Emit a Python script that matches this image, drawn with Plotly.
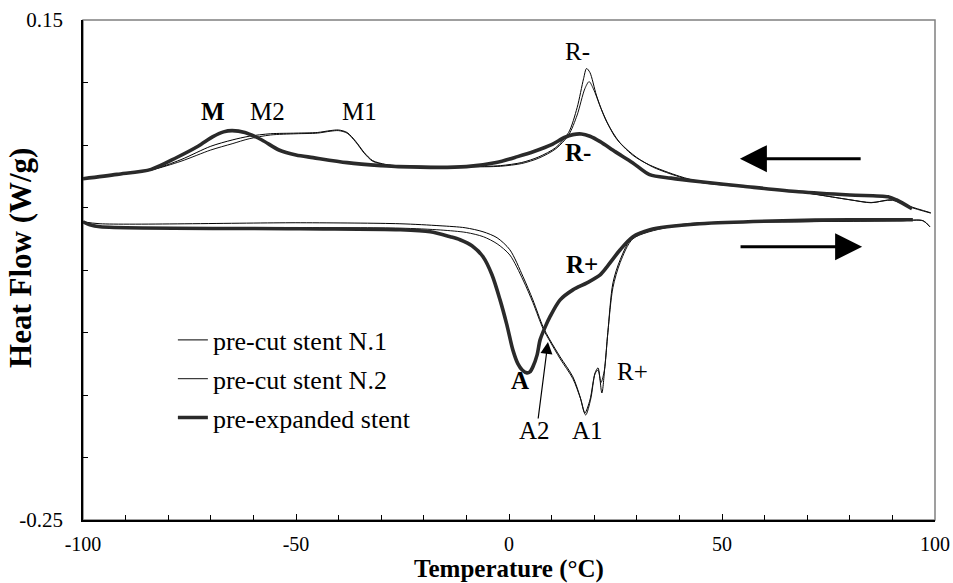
import plotly.graph_objects as go

# ---------------- data ----------------
# Cooling scans (upper curves)
T_cool_n1 = [-100, -92, -84, -77, -70, -65, -61, -56, -50, -45, -42, -40, -38, -36, -34, -32, -29, -26, -10, -2, 3, 7, 11, 14, 16, 17.5, 18.2, 19, 20.5, 22, 25, 29, 33, 40, 45, 55, 68, 80, 85, 90, 94, 99]
hf_cool_n1 = [0.0230, 0.0262, 0.0300, 0.0383, 0.0490, 0.0540, 0.0570, 0.0590, 0.0595, 0.0600, 0.0615, 0.0620, 0.0600, 0.0530, 0.0440, 0.0375, 0.0345, 0.0335, 0.0327, 0.0335, 0.0360, 0.0405, 0.0480, 0.0600, 0.0800, 0.1030, 0.1112, 0.1080, 0.0900, 0.0760, 0.0560, 0.0420, 0.0340, 0.0250, 0.0206, 0.0170, 0.0126, 0.0062, 0.0038, 0.0062, 0.0010, -0.0042]

T_cool_n2 = [-100, -92, -84, -77, -70, -65, -61, -56, -50, -45, -42, -40, -38, -36, -34, -32, -29, -26, -10, -2, 3, 7, 11, 14, 16, 17.8, 18.8, 19.8, 21.5, 23, 26, 30, 34, 40, 45, 55, 68, 80, 85, 90, 94, 99]
hf_cool_n2 = [0.0230, 0.0262, 0.0300, 0.0370, 0.0460, 0.0510, 0.0550, 0.0580, 0.0590, 0.0595, 0.0610, 0.0615, 0.0595, 0.0525, 0.0435, 0.0370, 0.0342, 0.0333, 0.0325, 0.0330, 0.0352, 0.0395, 0.0470, 0.0580, 0.0740, 0.0950, 0.1007, 0.0950, 0.0800, 0.0680, 0.0520, 0.0400, 0.0320, 0.0245, 0.0200, 0.0165, 0.0124, 0.0062, 0.0040, 0.0058, 0.0005, -0.0045]

T_cool_exp = [-100, -92, -84, -78, -73, -69.5, -67, -65, -62, -58, -54, -50, -46, -38, -30, -26, -10, -3, 2, 6, 10, 13, 15, 17, 19, 21.4, 25, 29, 33, 38, 45, 55, 68, 80, 89, 91, 94.6]
hf_cool_exp = [0.0230, 0.0265, 0.0305, 0.0400, 0.0490, 0.0567, 0.0605, 0.0615, 0.0600, 0.0540, 0.0460, 0.0420, 0.0399, 0.0359, 0.0335, 0.0327, 0.0327, 0.0360, 0.0407, 0.0450, 0.0503, 0.0560, 0.0583, 0.0588, 0.0570, 0.0527, 0.0445, 0.0359, 0.0263, 0.0235, 0.0206, 0.0170, 0.0126, 0.0100, 0.0086, 0.0060, -0.0010]

# Heating scans (lower curves)
T_heat_n1 = [-100, -96, -49, -25.6, -16.2, -10.3, -6.1, -2.8, 0.2, 3.3, 5.6, 8.0, 9.6, 12, 15, 16.7, 17.8, 19.0, 20.2, 20.9, 21.8, 22.5, 23.2, 24.4, 26.1, 29.1, 37.1, 44.8, 68.3, 91.8, 97.2, 98.8]
hf_heat_n1 = [-0.0114, -0.0130, -0.0122, -0.0130, -0.0146, -0.0162, -0.0194, -0.0242, -0.0338, -0.0554, -0.0739, -0.0955, -0.1059, -0.1195, -0.1355, -0.1516, -0.1644, -0.1540, -0.1324, -0.1283, -0.1484, -0.1275, -0.1003, -0.0603, -0.0418, -0.0234, -0.0154, -0.0122, -0.0114, -0.0106, -0.0106, -0.0154]

T_heat_n2 = [-100, -96, -49, -25.6, -16, -10, -6, -2.8, 0.2, 3.3, 5.6, 8.0, 9.6, 12, 15, 16.8, 18.0, 19.2, 20.2, 20.9, 21.6, 22.4, 23.2, 24.4, 26.1, 29.1, 37, 45, 68, 92, 97.2, 98.8]
hf_heat_n2 = [-0.0114, -0.0150, -0.0160, -0.0165, -0.0180, -0.0200, -0.0234, -0.0290, -0.0380, -0.0580, -0.0760, -0.0970, -0.1070, -0.1210, -0.1370, -0.1530, -0.1660, -0.1530, -0.1330, -0.1300, -0.1400, -0.1300, -0.1000, -0.0640, -0.0440, -0.0250, -0.0160, -0.0125, -0.0114, -0.0106, -0.0106, -0.0154]

T_heat_exp = [-100, -98.4, -96, -49.1, -25.6, -18.5, -13.8, -11.5, -8.7, -6.1, -4.0, -2.1, -0.5, 0.9, 2.1, 3.1, 4.2, 4.9, 5.6, 6.6, 7.3, 8.5, 9.6, 12.0, 15.0, 18.3, 21.4, 23.0, 26.1, 29.1, 33.1, 37.1, 44.8, 64.3, 80.0, 94.8]
hf_heat_exp = [-0.0114, -0.0138, -0.0154, -0.0170, -0.0178, -0.0194, -0.0234, -0.0258, -0.0306, -0.0394, -0.0538, -0.0739, -0.0939, -0.1139, -0.1251, -0.1300, -0.1323, -0.1315, -0.1275, -0.1179, -0.1059, -0.0955, -0.0875, -0.0739, -0.0659, -0.0603, -0.0539, -0.0475, -0.0338, -0.0234, -0.0178, -0.0154, -0.0130, -0.0106, -0.0098, -0.0098]

series_names = ["pre-cut stent N.1", "pre-cut stent N.2", "pre-expanded stent"]

x_tickvals = [-100, -50, 0, 50, 100]
x_ticktext = ["-100", "-50", "0", "50", "100"]
y_tickvals = [-0.25, -0.20, -0.15, -0.10, -0.05, 0.0, 0.05, 0.10, 0.15]
y_ticktext = ["-0.25", "", "", "", "", "", "", "", "0.15"]

# peak labels: (text, T, heat flow, bold)
peak_labels = [
    ("M", -69.5, 0.0767, True),
    ("M2", -56.6, 0.0767, False),
    ("M1", -35.0, 0.0767, False),
    ("R-", 16.0, 0.1248, False),
    ("R-", 16.2, 0.0439, True),
    ("R+", 17.1, -0.0458, True),
    ("A", 2.6, -0.1380, True),
    ("A2", 6.1, -0.1780, False),
    ("A1", 18.5, -0.1780, False),
    ("R+", 28.9, -0.1315, False),
]

FONT = "Liberation Serif, Times New Roman, serif"

fig = go.Figure()

styles = [("#000000", 1.0), ("#111111", 1.0), ("#2a2a2a", 3.6)]
cool = [(T_cool_n1, hf_cool_n1), (T_cool_n2, hf_cool_n2), (T_cool_exp, hf_cool_exp)]
heat = [(T_heat_n1, hf_heat_n1), (T_heat_n2, hf_heat_n2), (T_heat_exp, hf_heat_exp)]

for i, name in enumerate(series_names):
    color, width = styles[i]
    fig.add_trace(go.Scatter(x=cool[i][0], y=cool[i][1], mode="lines", name=name,
                             legendgroup=name, showlegend=True,
                             line=dict(color=color, width=width, shape="spline", smoothing=0.8)))
    fig.add_trace(go.Scatter(x=heat[i][0], y=heat[i][1], mode="lines", name=name,
                             legendgroup=name, showlegend=False,
                             line=dict(color=color, width=width, shape="spline", smoothing=0.8)))

for text, tx, ty, bold in peak_labels:
    fig.add_annotation(x=tx, y=ty, text=("<b>%s</b>" % text) if bold else text,
                       showarrow=False, font=dict(family=FONT, size=25, color="black"))

# A2 pointer arrow
fig.add_annotation(x=9.15, y=-0.1075, ax=6.8, ay=-0.170, axref="x", ayref="y",
                   text="", showarrow=True, arrowhead=2, arrowsize=2.0, arrowwidth=1.2,
                   arrowcolor="black")
# scan direction arrows
fig.add_annotation(x=54.2, y=0.0391, ax=82.9, ay=0.0391, axref="x", ayref="y",
                   text="", showarrow=True, arrowhead=2, arrowsize=1.8, arrowwidth=3,
                   arrowcolor="black")
fig.add_annotation(x=82.9, y=-0.0314, ax=54.0, ay=-0.0314, axref="x", ayref="y",
                   text="", showarrow=True, arrowhead=2, arrowsize=1.8, arrowwidth=3,
                   arrowcolor="black")

# y-axis title (placed slightly above the axis centre, as in the reference)
fig.add_annotation(xref="paper", yref="paper", x=-0.074, y=0.524, xanchor="center", yanchor="middle",
                   text="<b>Heat Flow (W/g)</b>", textangle=-90, showarrow=False,
                   font=dict(family=FONT, size=31, color="black"))

# plot frame (top/right grey)
fig.add_shape(type="rect", xref="paper", yref="paper", x0=0, y0=0, x1=1, y1=1,
              line=dict(color="#808080", width=1.5), layer="below")

fig.update_layout(
    width=953, height=583,
    margin=dict(l=83, r=18, t=20, b=63, autoexpand=False),
    paper_bgcolor="white", plot_bgcolor="white",
    font=dict(family=FONT, size=20, color="black"),
    showlegend=True,
    legend=dict(x=0.1055, y=0.407, xanchor="left", yanchor="top",
                bgcolor="rgba(0,0,0,0)", borderwidth=0,
                font=dict(family=FONT, size=26, color="black"),
                traceorder="grouped", tracegroupgap=2, itemwidth=30),
    xaxis=dict(range=[-100, 100], showline=True, linecolor="black", linewidth=1.5,
               showgrid=False, zeroline=False, ticks="inside", ticklen=6,
               tickcolor="black", tickwidth=1, tickmode="array",
               tickvals=x_tickvals, ticktext=x_ticktext, automargin=False,
               ticklabelstandoff=5,
               tickfont=dict(family=FONT, size=20),
               minor=dict(tickmode="linear", tick0=-100, dtick=10, ticks="inside", ticklen=5,
                          tickcolor="black", showgrid=False),
               title=dict(text="<b>Temperature (°C)</b>", font=dict(family=FONT, size=25), standoff=5)),
    yaxis=dict(range=[-0.25, 0.15], showline=True, linecolor="black", linewidth=1.5,
               showgrid=False, zeroline=False, ticks="inside", ticklen=5,
               tickcolor="black", tickwidth=1, tickmode="array", automargin=False,
               tickvals=y_tickvals, ticktext=y_ticktext, ticklabelstandoff=14,
               tickfont=dict(family=FONT, size=21)),
)

fig.write_html("out.html")
